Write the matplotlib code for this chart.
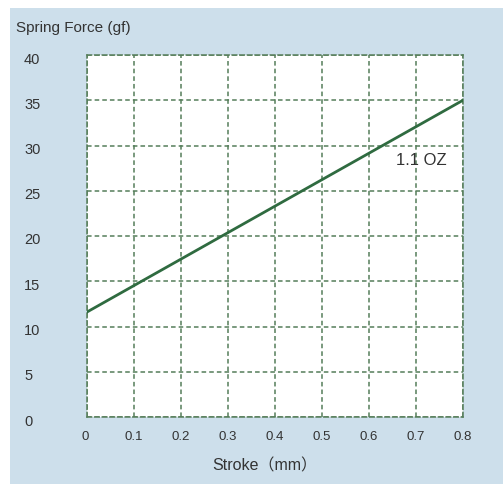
import matplotlib.pyplot as plt
from matplotlib.patches import Rectangle
from matplotlib.transforms import ScaledTranslation

# data
stroke = [0, 0.8]
force = [11.6, 35.0]
x_ticks = [0, 0.1, 0.2, 0.3, 0.4, 0.5, 0.6, 0.7, 0.8]
x_labels = ["0", "0.1", "0.2", "0.3", "0.4", "0.5", "0.6", "0.7", "0.8"]
y_ticks = [0, 5, 10, 15, 20, 25, 30, 35, 40]
curve_label = "1.1 OZ"

fonts = ["Liberation Sans", "Noto Sans CJK SC", "DejaVu Sans"]
plt.rcParams["font.family"] = fonts

grid_col = "#557d5a"
line_col = "#2f6b40"
text_col = "#333333"

fig = plt.figure(figsize=(5.03, 4.84), dpi=100)
fig.patch.set_facecolor("white")
# light blue panel behind the chart
fig.patches.append(Rectangle((10 / 503, 0), 1, 1 - 8 / 484, transform=fig.transFigure,
                             facecolor="#cddfeb", edgecolor="none", zorder=-5))

ax = fig.add_axes([87 / 503, 67 / 484, 376 / 503, 362 / 484])
ax.set_facecolor("white")
ax.plot(stroke, force, color=line_col, linewidth=2.0, zorder=3)

ax.set_xlim(0, 0.8)
ax.set_ylim(0, 40)
ax.set_xticks(x_ticks)
ax.set_xticklabels(x_labels)
ax.set_yticks(y_ticks)

dash = (0, (3, 2))
ax.grid(True, color=grid_col, linestyle=dash, linewidth=1.1)
for sp in ax.spines.values():
    sp.set_color(grid_col)
    sp.set_linestyle(dash)
    sp.set_linewidth(1.1)

ax.tick_params(axis="both", length=0, labelcolor=text_col)
ax.tick_params(axis="x", pad=10, labelsize=9.5)
ax.tick_params(axis="y", pad=46, labelsize=10.5)
for lab in ax.get_yticklabels():
    lab.set_horizontalalignment("left")
    lab.set_transform(lab.get_transform() + ScaledTranslation(0.01, -0.03, fig.dpi_scale_trans))
ax.get_xticklabels()[0].set_transform(
    ax.get_xticklabels()[0].get_transform() + ScaledTranslation(-0.02, 0, fig.dpi_scale_trans))

ax.text(0.712, 28.3, curve_label, fontsize=12, color=text_col, ha="center", va="center")

fig.text(16 / 503, 1 - 28 / 484, "Spring Force (gf)", fontsize=11, color=text_col, va="center")
fig.text(265 / 503, 1 - 466 / 484, "Stroke（mm）", fontsize=11.5, color=text_col,
         ha="center", va="center")

fig.savefig("out.png", dpi=100)
